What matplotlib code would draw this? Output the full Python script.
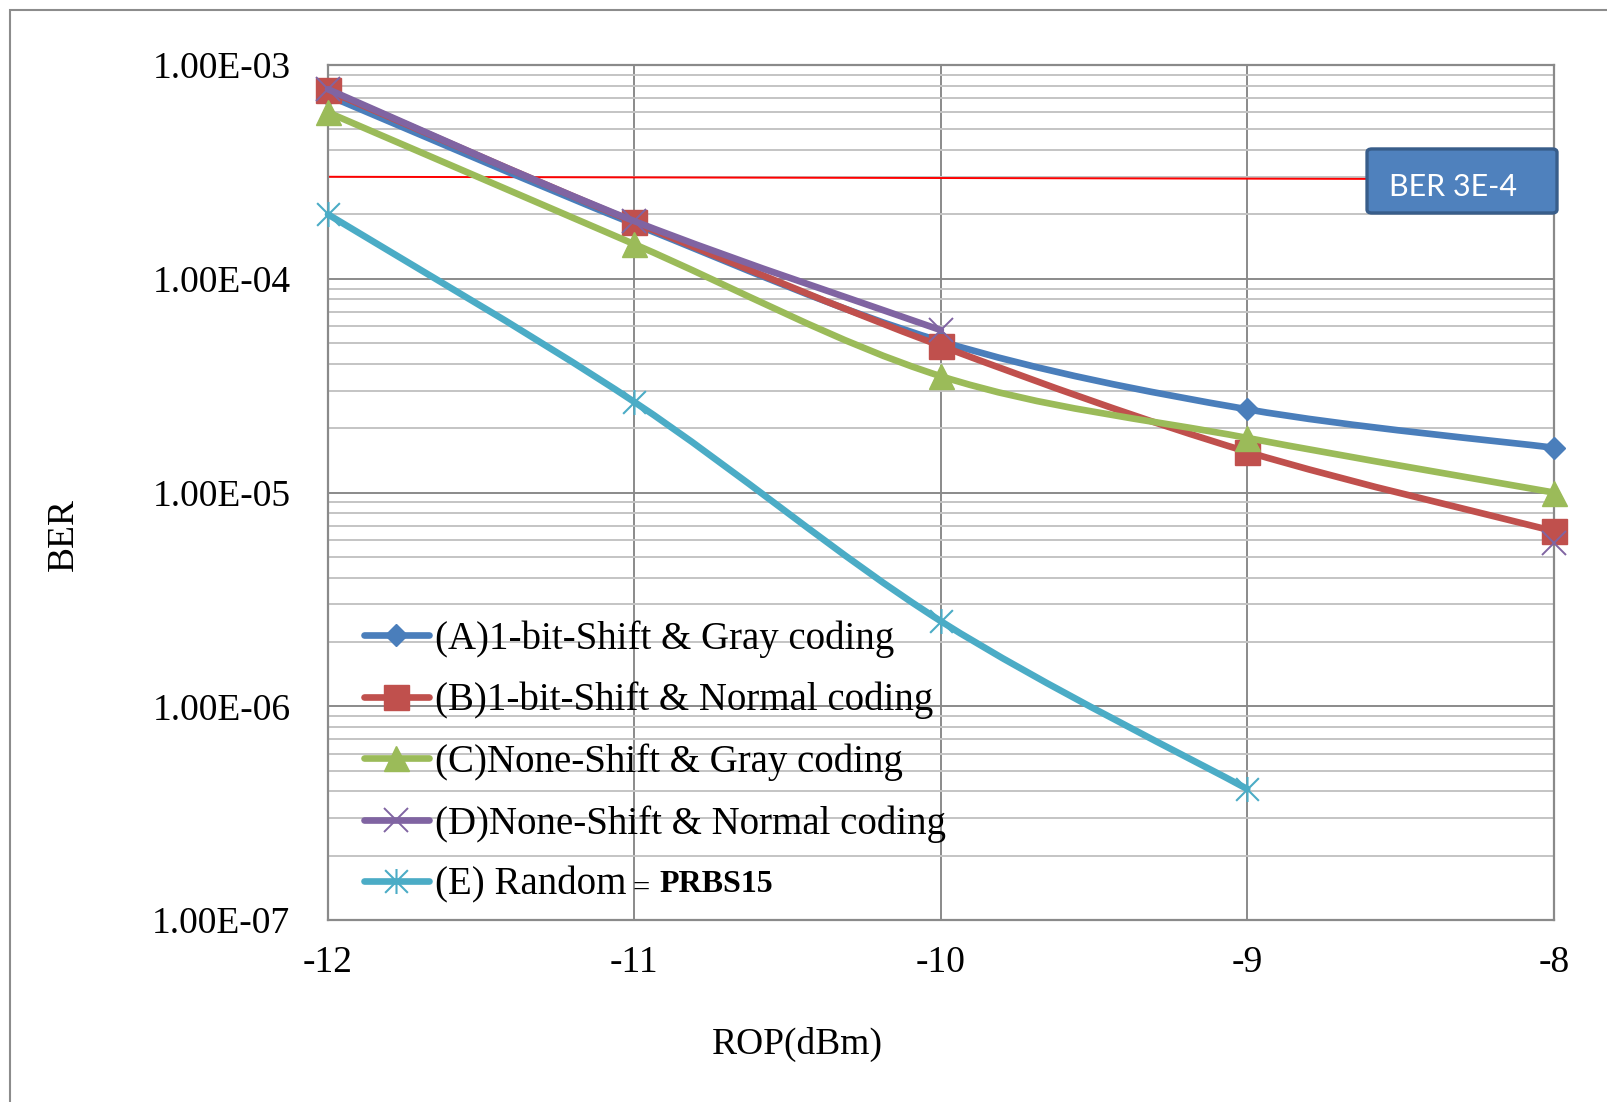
import numpy as np
import matplotlib
matplotlib.use("Agg")
import matplotlib.pyplot as plt
from matplotlib.path import Path
from matplotlib.patches import PathPatch, FancyBboxPatch, Rectangle
from matplotlib.lines import Line2D
from matplotlib.ticker import FixedLocator, LogLocator, NullFormatter

plt.rcParams["font.family"] = ["Liberation Serif", "DejaVu Serif"]

# ---- data ----
rop = [-12, -11, -10, -9, -8]
ber_a = [7.2e-4, 1.80e-4, 5.1e-5, 2.45e-5, 1.62e-5]
ber_b = [7.6e-4, 1.84e-4, 4.85e-5, 1.55e-5, 6.6e-6]
ber_c = [6.0e-4, 1.45e-4, 3.5e-5, 1.80e-5, 1.0e-5]
ber_d = [7.7e-4, 1.86e-4, 5.75e-5, np.nan, 5.8e-6]   # no point at -9 -> gap
rop_e = [-12, -11, -10, -9]
ber_e = [2.0e-4, 2.65e-5, 2.5e-6, 4.1e-7]

labels = ["(A)1-bit-Shift & Gray coding",
          "(B)1-bit-Shift & Normal coding",
          "(C)None-Shift & Gray coding",
          "(D)None-Shift & Normal coding",
          "(E) Random"]

thr_x = [-12, -8.5]
thr_y = [3.0e-4, 2.93e-4]

x_ticks = [-12, -11, -10, -9, -8]
x_ticklabels = ["-12", "-11", "-10", "-9", "-8"]
y_ticks = [1e-7, 1e-6, 1e-5, 1e-4, 1e-3]
y_ticklabels = ["1.00E-07", "1.00E-06", "1.00E-05", "1.00E-04", "1.00E-03"]

colors = ["#4A7EBB", "#C0504D", "#9BBB59", "#8064A2", "#4BACC6"]

# asterisk marker like excel: x plus vertical bar
star = Path([(-1, -1), (1, 1), (-1, 1), (1, -1), (0, -1.1), (0, 1.1)],
            [Path.MOVETO, Path.LINETO, Path.MOVETO, Path.LINETO, Path.MOVETO, Path.LINETO])


def smooth_path(xs, ys):
    # excel style bezier smoothing, computed in (x, log10 y) space
    x = np.asarray(xs, float)
    ly = np.log10(np.asarray(ys, float))
    n = len(x)
    verts = [(x[0], ly[0])]
    codes = [Path.MOVETO]
    for i in range(n - 1):
        j0 = max(i - 1, 0)
        j3 = min(i + 2, n - 1)
        c1 = (x[i] + (x[i + 1] - x[j0]) / 6, ly[i] + (ly[i + 1] - ly[j0]) / 6)
        c2 = (x[i + 1] - (x[j3] - x[i]) / 6, ly[i + 1] - (ly[j3] - ly[i]) / 6)
        verts += [c1, c2, (x[i + 1], ly[i + 1])]
        codes += [Path.CURVE4] * 3
    return Path([(vx, 10 ** vy) for vx, vy in verts], codes)


def draw_series(ax, xs, ys, color, marker, ms, mew, mfc, z):
    xs = np.asarray(xs, float)
    ys = np.asarray(ys, float)
    ok = ~np.isnan(ys)
    # split into runs of valid points
    runs, cur = [], []
    for k in range(len(xs)):
        if ok[k]:
            cur.append(k)
        else:
            if cur:
                runs.append(cur)
            cur = []
    if cur:
        runs.append(cur)
    for r in runs:
        if len(r) > 1:
            ax.add_patch(PathPatch(smooth_path(xs[r], ys[r]), fill=False,
                                   edgecolor=color, lw=4.8, capstyle="round",
                                   joinstyle="round", zorder=z, clip_on=False))
    ax.plot(xs[ok], ys[ok], ls="none", marker=marker, ms=ms, mew=mew,
            mfc=mfc, mec=color, zorder=z + 0.5, clip_on=False)
    return Line2D([], [], color=color, lw=4.8, marker=marker, ms=ms,
                  mew=mew, mfc=mfc, mec=color, solid_capstyle="round")


fig = plt.figure(figsize=(16.08, 11.02), dpi=100)
ax = fig.add_axes([328 / 1608, 1 - 920 / 1102, (1553.7 - 328) / 1608, (920 - 65) / 1102])

# outer chart frame (cut off at right/bottom like the reference)
fig.patches.append(Rectangle((10 / 1608, -0.1), 1.2, 1 - 10 / 1102 + 0.1,
                             transform=fig.transFigure, fill=False,
                             edgecolor="#8C8C8C", lw=1.5))

ax.set_yscale("log")
ax.set_xlim(-12, -8)
ax.set_ylim(1e-7, 1e-3)

ax.xaxis.set_major_locator(FixedLocator(x_ticks))
ax.set_xticklabels(x_ticklabels)
ax.yaxis.set_major_locator(FixedLocator(y_ticks))
ax.set_yticklabels(y_ticklabels)
ax.yaxis.set_minor_locator(LogLocator(base=10, subs=np.arange(2, 10)))
ax.yaxis.set_minor_formatter(NullFormatter())
ax.tick_params(which="both", length=0)
ax.tick_params(axis="y", labelsize=27, pad=27)
ax.tick_params(axis="x", labelsize=27, pad=18)

ax.grid(True, which="major", color="#8A8A8A", lw=1.4, zorder=0)
ax.grid(True, which="minor", axis="y", color="#C4C4C4", lw=1.4, zorder=0)
ax.set_axisbelow(True)
for s in ax.spines.values():
    s.set_color("#8A8A8A")
    s.set_linewidth(1.6)

# threshold line + label box
ax.plot(thr_x, thr_y, color="#FF0000", lw=1.4, zorder=2)
ax.add_patch(FancyBboxPatch((0.8477, 0.8269), 0.155, 0.0749,
                            boxstyle="round,pad=0,rounding_size=0.004",
                            transform=ax.transAxes, facecolor="#4F81BD",
                            edgecolor="#385D8A", lw=2.4, zorder=6, clip_on=False))
ax.text(0.918, 0.857, "BER 3E-4", transform=ax.transAxes, ha="center",
        va="center", color="white", fontsize=22, family=["Lato", "DejaVu Sans"],
        zorder=7)

handles = []
handles.append(draw_series(ax, rop, ber_a, colors[0], "D", 11.5, 1, colors[0], 3))
handles.append(draw_series(ax, rop, ber_b, colors[1], "s", 18, 1, colors[1], 4))
handles.append(draw_series(ax, rop, ber_c, colors[2], "^", 18, 1, colors[2], 5))
handles.append(draw_series(ax, rop, ber_d, colors[3], "x", 17, 1.4, "none", 5.2))
handles.append(draw_series(ax, rop_e, ber_e, colors[4], star, 18, 1.5, "none", 5.4))

leg = fig.legend(handles, labels, loc="upper left",
                 bbox_to_anchor=(364 / 1608, 1 - 620 / 1102),
                 frameon=False, fontsize=28, handlelength=1.67,
                 handletextpad=0.15, labelspacing=0.62, borderpad=0,
                 borderaxespad=0, numpoints=1)

fig.text(641 / 1608, 1 - 889 / 1102, "=", fontsize=22, ha="center", va="center")
fig.text(659 / 1608, 1 - 885 / 1102, "PRBS15", fontsize=23, fontweight="bold",
         ha="left", va="center")

fig.text(797 / 1608, 1 - 1044 / 1102, "ROP(dBm)", fontsize=27, ha="center", va="center")
fig.text(64 / 1608, 1 - 535 / 1102, "BER", fontsize=27, ha="center", va="center",
         rotation=90)

fig.savefig("out.png", dpi=100)
